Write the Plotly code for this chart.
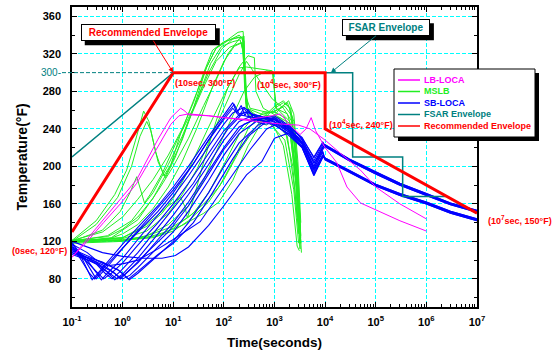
import math
import plotly.graph_objects as go

# ---------------- data ----------------
SERIES_NAMES = ["LB-LOCA", "MSLB", "SB-LOCA", "FSAR Envelope", "Recommended Envelope"]
SERIES_COLORS = ["#FF00FF", "#22EE22", "#0000FF", "#008080", "#FF0000"]

X_TICK_VALUES = [0.1, 1, 10, 100, 1e3, 1e4, 1e5, 1e6, 1e7]
X_TICK_LABELS = ["10<sup>-1</sup>", "10<sup>0</sup>", "10<sup>1</sup>", "10<sup>2</sup>", "10<sup>3</sup>",
                 "10<sup>4</sup>", "10<sup>5</sup>", "10<sup>6</sup>", "10<sup>7</sup>"]
Y_TICK_VALUES = [80, 120, 160, 200, 240, 280, 320, 360]

RECOMMENDED_TIME = [0.1, 10, 1e4, 1e4, 1e7]
RECOMMENDED_TEMP = [130, 300, 300, 240, 150]
RECOMMENDED_LABELS = ["(0sec, 120°F)", "(10sec, 300°F)", "(10<sup>4</sup>sec, 300°F)",
                      "(10<sup>4</sup>sec, 240°F)", "(10<sup>7</sup>sec, 150°F)"]

FSAR_TIME = [0.1, 10, 3.5e4, 3.5e4, 3.4e5, 3.4e5, 2.4e6]
FSAR_TEMP = [210, 300, 300, 210, 210, 168, 168]
FSAR_ARROW_TIME = 1.3e4

LB_LOCA = [
    [(0.1, 103), (0.19, 121), (0.42, 143), (0.9, 164), (1.9, 186), (5, 229), (9, 252), (14, 262), (17, 259),
     (20, 255), (50, 254), (100, 252), (300, 250), (900, 254), (1300, 256), (2300, 241), (3200, 234),
     (4200, 240), (5300, 252), (6500, 238), (1e4, 220), (1.7e4, 204), (2.7e4, 178), (5e4, 161),
     (1.05e5, 153), (3e5, 142), (1e6, 131)],
    [(0.1, 103), (0.2, 120), (0.42, 140), (0.9, 160), (1.9, 182), (5, 222), (9, 245), (13, 254), (20, 256),
     (50, 254), (200, 250), (600, 247), (1500, 245), (3000, 244), (5000, 240), (7000, 234), (1e4, 228),
     (2e4, 214), (5e4, 196), (1e5, 178), (3e5, 160), (1e6, 144)],
]

MSLB = [
    [(0.1, 121), (0.3, 142), (0.7, 170), (1.2, 196), (1.8, 228), (2.6, 259), (3.3, 248), (4.5, 215), (6.5, 190),
     (9, 202), (14, 235), (25, 270), (45, 305), (70, 326), (120, 335), (190, 343), (240, 344), (265, 300),
     (290, 262), (450, 250), (900, 246), (1500, 222), (2200, 170), (2800, 115), (3100, 110)],
    [(0.1, 120), (0.3, 138), (0.8, 167), (1.5, 200), (2.2, 232), (3, 248), (3.6, 238), (5, 205), (7, 188),
     (11, 210), (20, 248), (40, 285), (70, 312), (130, 327), (220, 332), (250, 318), (275, 262), (400, 250),
     (800, 246), (1600, 228), (2400, 175), (3000, 118)],
    [(0.1, 120), (0.4, 132), (0.9, 152), (1.4, 172), (1.9, 189), (2.7, 161), (3.5, 170), (6, 192), (12, 228),
     (25, 262), (50, 300), (90, 325), (150, 336), (230, 338), (255, 312), (270, 268), (350, 250), (700, 244),
     (1300, 262), (1900, 270), (2400, 256), (2900, 205), (3300, 140)],
    [(0.1, 121), (0.5, 125), (1, 133), (2, 146), (4, 166), (8, 196), (15, 228), (25, 262), (45, 305), (70, 326),
     (120, 334), (200, 340), (240, 336), (258, 296), (285, 262), (600, 255), (1200, 252), (2000, 238),
     (2700, 180), (3200, 112)],
    [(0.1, 119), (0.5, 122), (1, 128), (2, 138), (4, 155), (8, 178), (15, 205), (30, 242), (60, 285), (100, 312),
     (160, 328), (230, 332), (250, 305), (270, 275), (330, 262), (800, 257), (1600, 264), (2200, 254),
     (2800, 200), (3300, 126)],
    [(0.1, 120), (1, 124), (3, 138), (8, 158), (14, 167), (17, 157), (19, 145), (25, 165), (40, 205), (70, 248),
     (120, 284), (200, 305), (280, 306), (500, 304), (900, 302), (1000, 280), (1100, 262), (2000, 248),
     (2700, 192), (3200, 132)],
    [(0.1, 121), (1, 123), (3, 131), (8, 150), (15, 170), (30, 198), (60, 235), (100, 262), (150, 282),
     (200, 298), (280, 312), (340, 305), (500, 292), (900, 272), (1500, 262), (2200, 248), (2800, 185),
     (3300, 118)],
    [(0.1, 119), (1, 121), (3, 126), (8, 138), (20, 158), (40, 186), (80, 222), (150, 255), (250, 280),
     (400, 295), (700, 302), (950, 300), (1050, 262), (1800, 256), (2500, 228), (3000, 160), (3400, 108)],
    [(0.1, 120), (1, 121), (4, 124), (10, 131), (20, 142), (50, 162), (100, 186), (200, 216), (400, 240),
     (700, 256), (1000, 264), (1500, 270), (2000, 262), (2600, 218), (3100, 150), (3300, 118)],
    [(0.1, 121), (1, 122), (5, 126), (10, 134), (25, 150), (50, 172), (100, 202), (200, 234), (350, 250),
     (600, 256), (1000, 258), (1800, 268), (2400, 248), (2900, 196), (3300, 124)],
    [(0.1, 120), (0.5, 126), (1.5, 142), (4, 172), (8, 202), (15, 232), (30, 272), (55, 310), (90, 328),
     (150, 333), (210, 335), (240, 322), (258, 282), (300, 253), (600, 248), (1000, 250), (1600, 240),
     (2300, 200), (2800, 146)],
    [(0.1, 119), (0.6, 124), (2, 143), (5, 174), (10, 200), (20, 230), (40, 265), (70, 292), (120, 320),
     (200, 336), (250, 339), (262, 296), (290, 262), (500, 252), (1000, 248), (1800, 232), (2500, 176),
     (3000, 130)],
    [(0.1, 120), (1, 124), (3, 136), (6, 150), (10, 166), (20, 196), (50, 242), (100, 276), (200, 306),
     (300, 318), (400, 316), (430, 280), (600, 262), (1000, 255), (2000, 246), (2700, 190), (3100, 140)],
    [(0.1, 118), (1, 120), (3, 126), (10, 136), (20, 146), (40, 160), (80, 178), (150, 205), (300, 240),
     (600, 258), (1000, 258), (1600, 252), (2200, 232), (2800, 170), (3200, 112)],
    [(0.1, 120), (1, 121), (3, 124), (7, 130), (15, 137), (40, 150), (80, 162), (150, 185), (300, 222),
     (600, 250), (1000, 262), (1500, 268), (2100, 262), (2700, 205), (3200, 128)],
    [(0.1, 121), (0.4, 130), (1, 146), (2, 165), (4, 186), (8, 212), (15, 240), (25, 268), (40, 300), (60, 324),
     (100, 333), (200, 338), (250, 334), (265, 290), (300, 258), (700, 250), (1300, 252), (2000, 240),
     (2600, 185), (3000, 128)],
]

SB_LOCA = [
    [(0.1, 118), (0.15, 104), (0.2, 90), (0.25, 79), (0.35, 88), (0.6, 103), (1, 117), (2, 135), (5, 158),
     (10, 178), (20, 200), (50, 232), (100, 255), (150, 268), (180, 257), (220, 265), (260, 254), (300, 261),
     (400, 250), (700, 248), (1000, 250), (2000, 240), (3500, 226), (6000, 200), (9000, 220), (1e4, 222),
     (3e4, 207), (1e5, 193), (3e5, 181), (1e6, 170), (3e6, 160), (1e7, 152)],
    [(0.1, 116), (0.15, 100), (0.22, 86), (0.28, 80), (0.4, 90), (0.7, 104), (1, 113), (2, 130), (5, 152),
     (10, 172), (20, 195), (50, 228), (100, 250), (150, 262), (200, 254), (250, 262), (350, 250), (600, 245),
     (1000, 246), (2000, 236), (3500, 222), (6000, 194), (9000, 212), (1e4, 208), (3e4, 195), (1e5, 180),
     (3e5, 170), (1e6, 161), (3e6, 151), (1e7, 143)],
    [(0.1, 114), (0.2, 100), (0.3, 87), (0.38, 79), (0.5, 86), (1, 102), (2, 122), (5, 148), (10, 168),
     (20, 190), (50, 222), (100, 245), (150, 257), (250, 263), (400, 254), (700, 250), (1000, 247), (2000, 238),
     (3500, 228), (6000, 206), (9000, 223), (1e4, 223), (3e4, 208), (1e5, 194), (3e5, 182), (1e6, 171),
     (3e6, 161), (1e7, 153)],
    [(0.1, 112), (0.2, 98), (0.3, 88), (0.42, 80), (0.6, 86), (1, 97), (2, 116), (5, 140), (10, 160), (20, 182),
     (50, 214), (100, 238), (200, 255), (400, 252), (1000, 245), (2000, 232), (3500, 220), (6000, 191),
     (9000, 210), (1e4, 209), (3e4, 196), (1e5, 181), (3e5, 171), (1e6, 162), (3e6, 152), (1e7, 144)],
    [(0.1, 110), (0.3, 98), (0.5, 87), (0.7, 79), (1, 85), (2, 102), (5, 128), (10, 148), (20, 170), (50, 202),
     (100, 228), (200, 248), (400, 255), (1000, 250), (2000, 241), (3500, 231), (6000, 209), (9000, 225),
     (1e4, 221), (3e4, 206), (1e5, 192), (3e5, 180), (1e6, 169), (3e6, 159), (1e7, 151)],
    [(0.1, 108), (0.3, 96), (0.55, 86), (0.78, 80), (1.1, 85), (2, 97), (5, 122), (10, 140), (20, 162),
     (50, 195), (100, 220), (200, 242), (400, 250), (1000, 252), (2000, 238), (3500, 226), (6000, 198),
     (9000, 215), (1e4, 207), (3e4, 194), (1e5, 179), (3e5, 169), (1e6, 160), (3e6, 150), (1e7, 142)],
    [(0.1, 106), (0.3, 97), (0.6, 88), (1, 80), (1.4, 84), (2, 92), (5, 114), (10, 130), (20, 152), (50, 185),
     (100, 212), (200, 235), (500, 250), (1000, 254), (2000, 243), (3500, 229), (6000, 203), (9000, 221),
     (1e4, 222), (3e4, 207), (1e5, 193), (3e5, 181), (1e6, 170), (3e6, 160), (1e7, 152)],
    [(0.1, 112), (0.3, 100), (0.8, 90), (1.35, 79), (2, 86), (5, 105), (10, 120), (20, 140), (50, 172),
     (100, 200), (200, 225), (500, 245), (1000, 250), (2000, 240), (3500, 225), (6000, 196), (9000, 212),
     (1e4, 208), (3e4, 195), (1e5, 180), (3e5, 170), (1e6, 161), (3e6, 151), (1e7, 143)],
    [(0.1, 120), (0.2, 114), (0.4, 108), (1, 104), (2.5, 102), (6, 102), (11, 105), (20, 114), (50, 137),
     (100, 158), (280, 191), (560, 205), (1000, 230), (2000, 236), (3500, 224), (6000, 197), (9000, 218),
     (1e4, 221), (3e4, 206), (1e5, 192), (3e5, 180), (1e6, 169), (3e6, 159), (1e7, 151)],
    [(0.1, 117), (0.2, 108), (0.3, 100), (0.5, 94), (1, 96), (2, 100), (5, 112), (10, 122), (34, 141),
     (100, 178), (330, 218), (700, 240), (1000, 244), (2000, 234), (3500, 221), (6000, 192), (9000, 210),
     (1e4, 208), (3e4, 195), (1e5, 180), (3e5, 170), (1e6, 161), (3e6, 151), (1e7, 143)],
    [(0.1, 119), (0.18, 100), (0.3, 80), (0.45, 90), (0.8, 106), (1.5, 124), (4, 150), (10, 175), (25, 203),
     (60, 235), (120, 258), (160, 266), (200, 256), (300, 258), (600, 248), (1000, 244), (2000, 234),
     (3500, 220), (6000, 190), (9000, 210), (1e4, 209), (3e4, 196), (1e5, 181), (3e5, 171), (1e6, 162),
     (3e6, 152), (1e7, 144)],
    [(0.1, 113), (0.3, 96), (0.45, 86), (0.62, 80), (0.9, 88), (2, 108), (5, 135), (10, 155), (25, 182),
     (60, 215), (120, 240), (250, 258), (500, 254), (1000, 248), (2000, 236), (3500, 224), (6000, 200),
     (9000, 220), (1e4, 223), (3e4, 208), (1e5, 194), (3e5, 182), (1e6, 171), (3e6, 161), (1e7, 153)],
    [(0.1, 110), (0.4, 95), (0.7, 86), (0.9, 80), (1.3, 88), (3, 108), (8, 130), (20, 158), (50, 192),
     (100, 218), (250, 245), (500, 252), (1000, 250), (2000, 238), (3500, 226), (6000, 204), (9000, 216),
     (1e4, 207), (3e4, 194), (1e5, 179), (3e5, 169), (1e6, 160), (3e6, 150), (1e7, 142)],
    [(0.1, 108), (0.4, 98), (0.9, 88), (1.3, 80), (2, 88), (5, 106), (10, 118), (25, 140), (60, 172),
     (150, 208), (300, 232), (700, 248), (1000, 252), (2000, 242), (3500, 230), (6000, 210), (9000, 226),
     (1e4, 222), (3e4, 207), (1e5, 193), (3e5, 181), (1e6, 170), (3e6, 160), (1e7, 152)],
]

# ---------------- figure ----------------
FONT = "Liberation Sans, Arial, sans-serif"
W, H = 557, 356
PLOT_L, PLOT_W, PLOT_T, PLOT_H = 72, 405, 7, 300
C_LB, C_MS, C_SB, C_FS, C_RE = SERIES_COLORS
X_RANGE = [math.log10(X_TICK_VALUES[0]), math.log10(X_TICK_VALUES[-1])]
Y_RANGE = [50, 370]


def px_x(px):
    return (px - PLOT_L) / PLOT_W


def px_y(py):
    return (PLOT_T + PLOT_H - py) / PLOT_H


def data_px(t, temp):
    # pixel position of a data point through the axis mapping
    fx = (math.log10(t) - X_RANGE[0]) / (X_RANGE[1] - X_RANGE[0])
    fy = (Y_RANGE[1] - temp) / (Y_RANGE[1] - Y_RANGE[0])
    return PLOT_L + fx * PLOT_W, PLOT_T + fy * PLOT_H


fig = go.Figure()


def add_family(curves, color, width):
    for c in curves:
        fig.add_trace(go.Scatter(x=[p[0] for p in c], y=[p[1] for p in c], mode="lines",
                                 line=dict(color=color, width=width), showlegend=False,
                                 hoverinfo="skip"))


add_family(MSLB, C_MS, 1)
add_family(SB_LOCA, C_SB, 1.1)
add_family(LB_LOCA, C_LB, 1)
fig.add_trace(go.Scatter(x=FSAR_TIME, y=FSAR_TEMP, mode="lines", line=dict(color=C_FS, width=1.5),
                         showlegend=False, hoverinfo="skip"))
fig.add_trace(go.Scatter(x=RECOMMENDED_TIME, y=RECOMMENDED_TEMP, mode="lines",
                         line=dict(color=C_RE, width=3), showlegend=False, hoverinfo="skip"))

minor_x = [m * v for v in X_TICK_VALUES[:-1] for m in range(2, 10)]

axis_common = dict(showline=True, linecolor="black", linewidth=1.5, mirror="ticks",
                   ticks="inside", ticklen=5, tickwidth=1, tickcolor="black",
                   showgrid=True, gridcolor="#00FFFF", gridwidth=1, griddash="4px,2px",
                   zeroline=False, automargin=False,
                   tickfont=dict(family=FONT, size=11, color="black"))

fig.update_xaxes(type="log", range=X_RANGE, tickmode="array", tickvals=X_TICK_VALUES,
                 ticktext=["<b>%s</b>" % s for s in X_TICK_LABELS],
                 minor=dict(tickmode="array", tickvals=minor_x, ticks="inside", ticklen=3,
                            tickcolor="black", showgrid=False),
                 title=dict(text="<b>Time(seconds)</b>", font=dict(family=FONT, size=13.5, color="black"),
                            standoff=11),
                 ticklabelstandoff=4, **axis_common)
fig.update_yaxes(range=Y_RANGE, tickmode="array", tickvals=Y_TICK_VALUES,
                 ticktext=["<b>%d</b>" % v for v in Y_TICK_VALUES],
                 minor=dict(dtick=20, tick0=0, ticks="inside", ticklen=3, tickcolor="black", showgrid=False),
                 title=dict(text="<b>Temperature(°F)</b>", font=dict(family=FONT, size=14, color="black"),
                            standoff=12),
                 ticklabelstandoff=7, **axis_common)

shapes = []
annotations = []

# dashed reference line at the plateau temperature
shapes.append(dict(type="line", xref="paper", yref="y", x0=px_x(62),
                   x1=px_x(data_px(RECOMMENDED_TIME[1], RECOMMENDED_TEMP[1])[0]),
                   y0=RECOMMENDED_TEMP[1], y1=RECOMMENDED_TEMP[1],
                   line=dict(color=C_FS, width=1, dash="4px,2px")))
annotations.append(dict(xref="paper", yref="y", x=px_x(63), y=RECOMMENDED_TEMP[1], xanchor="right",
                        yanchor="middle", showarrow=False, text="%d-" % RECOMMENDED_TEMP[1],
                        font=dict(family=FONT, size=10, color=C_FS)))

# envelope point labels
lab_font = dict(family=FONT, size=9, color=C_RE)
annotations.append(dict(xref="paper", yref="y", x=px_x(69), y=120, xanchor="right",
                        yanchor="middle", yshift=-10, showarrow=False,
                        text="<b>%s</b>" % RECOMMENDED_LABELS[0], font=lab_font))
annotations.append(dict(x=math.log10(RECOMMENDED_TIME[1]), y=RECOMMENDED_TEMP[1], xanchor="left",
                        yanchor="top", xshift=0, yshift=-3, showarrow=False,
                        text="<b>%s</b>" % RECOMMENDED_LABELS[1], font=lab_font))
annotations.append(dict(x=math.log10(RECOMMENDED_TIME[2]), y=RECOMMENDED_TEMP[2], xanchor="right",
                        yanchor="top", xshift=-2, yshift=-3, showarrow=False,
                        text="<b>%s</b>" % RECOMMENDED_LABELS[2], font=lab_font))
annotations.append(dict(x=math.log10(RECOMMENDED_TIME[3]), y=RECOMMENDED_TEMP[3], xanchor="left",
                        yanchor="middle", xshift=2, yshift=5, showarrow=False,
                        text="<b>%s</b>" % RECOMMENDED_LABELS[3], font=lab_font))
annotations.append(dict(x=math.log10(RECOMMENDED_TIME[4]), y=RECOMMENDED_TEMP[4], xanchor="left",
                        yanchor="middle", xshift=9, yshift=-7, showarrow=False,
                        text="<b>%s</b>" % RECOMMENDED_LABELS[4], font=lab_font))


def callout(text, color, t, temp, ax, ay, box_w, box_h):
    tip_x, tip_y = data_px(t, temp)
    cx, cy = tip_x + ax, tip_y + ay
    # drop shadow
    shapes.append(dict(type="rect", xref="paper", yref="paper",
                       x0=px_x(cx - box_w / 2 + 4), x1=px_x(cx + box_w / 2 + 4),
                       y0=px_y(cy + box_h / 2 + 4), y1=px_y(cy - box_h / 2 + 4),
                       fillcolor="black", line=dict(width=0), layer="above"))
    annotations.append(dict(x=math.log10(t), y=temp, ax=ax, ay=ay, axref="pixel", ayref="pixel",
                            text="<b>%s</b>" % text, font=dict(family=FONT, size=10, color=color),
                            bgcolor="white", bordercolor="black", borderwidth=1, borderpad=1,
                            width=box_w - 4, height=box_h - 4,
                            showarrow=True, arrowcolor=color, arrowwidth=1, arrowhead=2, arrowsize=1))


callout(SERIES_NAMES[4], C_RE, RECOMMENDED_TIME[1], RECOMMENDED_TEMP[1], -25, -40, 135, 17)
callout(SERIES_NAMES[3], C_FS, FSAR_ARROW_TIME, FSAR_TEMP[2], 55, -45, 88, 17)

# legend box (drawn by hand to match the compact original)
LEG_X0, LEG_X1, LEG_Y0, LEG_Y1 = 394, 535, 69, 137
shapes.append(dict(type="rect", xref="paper", yref="paper", x0=px_x(LEG_X0 + 4), x1=px_x(LEG_X1 + 4),
                   y0=px_y(LEG_Y1 + 4), y1=px_y(LEG_Y0 + 4), fillcolor="black", line=dict(width=0),
                   layer="above"))
shapes.append(dict(type="rect", xref="paper", yref="paper", x0=px_x(LEG_X0), x1=px_x(LEG_X1),
                   y0=px_y(LEG_Y1), y1=px_y(LEG_Y0), fillcolor="white", line=dict(color="black", width=1),
                   layer="above"))
for i, (name, col) in enumerate(zip(SERIES_NAMES, SERIES_COLORS)):
    ry = 80 + i * 11.5
    shapes.append(dict(type="line", xref="paper", yref="paper", x0=px_x(398), x1=px_x(420),
                       y0=px_y(ry), y1=px_y(ry), line=dict(color=col, width=1.5), layer="above"))
    annotations.append(dict(xref="paper", yref="paper", x=px_x(422), y=px_y(ry), xanchor="left",
                            yanchor="middle", showarrow=False, text="<b>%s</b>" % name,
                            font=dict(family=FONT, size=9, color=col)))

fig.update_layout(width=W, height=H, autosize=False,
                  margin=dict(l=PLOT_L, r=W - PLOT_L - PLOT_W, t=PLOT_T, b=H - PLOT_T - PLOT_H),
                  paper_bgcolor="white", plot_bgcolor="white", showlegend=False,
                  shapes=shapes, annotations=annotations, font=dict(family=FONT))

fig.write_html("out.html", config={"displayModeBar": False},
               post_script="document.body.style.margin='0px';document.body.style.overflow='hidden';")
